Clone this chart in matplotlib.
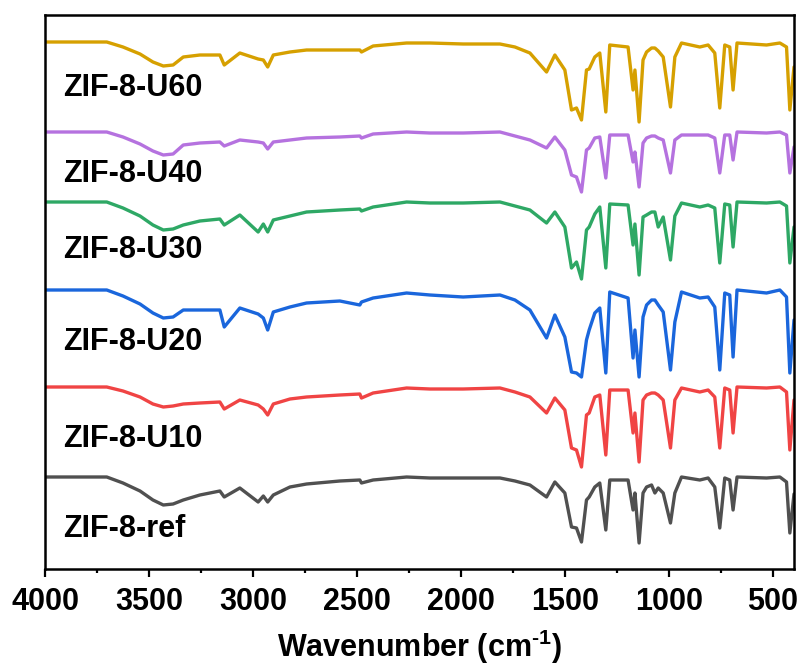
import matplotlib
matplotlib.use('Agg')
import matplotlib.pyplot as plt
from matplotlib.ticker import MultipleLocator

plt.rcParams['font.family'] = ['Liberation Sans', 'DejaVu Sans']
plt.rcParams['font.weight'] = 'bold'
plt.rcParams['mathtext.fontset'] = 'custom'
plt.rcParams['mathtext.rm'] = 'Liberation Sans:bold'
plt.rcParams['mathtext.default'] = 'rm'

# wavenumber grid (cm-1) at the visible features
wavenumber = [4000, 3703, 3625, 3543, 3481, 3431, 3384, 3335, 3255, 3159,
              3138, 3063, 2975, 2950, 2929, 2902, 2822, 2742, 2582, 2486,
              2478, 2422, 2261, 2149, 1989, 1812, 1740, 1668, 1588, 1548,
              1500, 1468, 1444, 1420, 1396, 1383, 1356, 1332, 1303, 1284,
              1196, 1172, 1163, 1143, 1124, 1107, 1083, 1067, 1051, 1027,
              992, 971, 939, 851, 811, 779, 755, 731, 707, 691,
              672, 530, 466, 434, 418, 398]

# absorption depth below each trace's own baseline (a.u.)
u60 = [0, 0, 5, 12, 20, 24, 23, 15, 13, 13,
       23, 11, 17, 18, 25, 13, 10, 8, 8, 8,
       10, 4, 1, 1, 2, 2, 5, 11, 30, 13,
       28, 68, 66, 78, 28, 27, 15, 11, 70, 3,
       5, 48, 28, 80, 18, 10, 6, 6, 9, 15,
       65, 15, 1, 5, 3, 11, 66, 3, 5, 48,
       1, 3, 1, 5, 68, 25]
u40 = [0, 0, 5, 12, 19, 23, 22, 13, 11, 10,
       14, 8, 10, 11, 17, 10, 8, 6, 5, 4,
       6, 2, 0, 1, 1, 0, 4, 8, 16, 5,
       18, 43, 45, 60, 18, 16, 6, 5, 46, 3,
       3, 30, 20, 55, 11, 6, 4, 4, 6, 8,
       41, 8, 3, 3, 3, 6, 41, 3, 3, 28,
       0, 1, 0, 3, 41, 15]
u30 = [0, 0, 6, 14, 23, 28, 27, 23, 19, 17,
       23, 13, 30, 22, 30, 18, 14, 10, 8, 7,
       9, 5, 0, 1, 1, 0, 4, 8, 21, 10,
       25, 66, 60, 77, 28, 25, 12, 5, 66, 2,
       3, 43, 22, 73, 15, 13, 10, 10, 25, 15,
       58, 14, 1, 5, 3, 6, 61, 2, 3, 45,
       0, 1, 0, 4, 61, 25]
u20 = [0, 0, 6, 14, 23, 28, 27, 20, 20, 20,
       37, 18, 24, 28, 40, 22, 17, 13, 11, 15,
       12, 8, 3, 5, 7, 5, 10, 20, 48, 25,
       47, 82, 83, 87, 50, 40, 23, 18, 83, 2,
       8, 68, 40, 87, 27, 15, 10, 10, 15, 22,
       80, 32, 2, 8, 7, 17, 80, 3, 5, 67,
       0, 3, 0, 7, 83, 30]
u10 = [0, 0, 4, 10, 17, 20, 19, 17, 16, 15,
       22, 13, 18, 22, 28, 17, 12, 10, 8, 7,
       11, 6, 1, 2, 2, 1, 5, 10, 26, 11,
       23, 61, 63, 80, 28, 26, 10, 8, 68, 3,
       3, 46, 26, 75, 13, 8, 6, 6, 8, 13,
       61, 13, 1, 5, 3, 10, 61, 1, 3, 46,
       0, 1, 0, 5, 63, 13]
ref = [0, 0, 6, 14, 23, 28, 27, 23, 18, 14,
       20, 11, 25, 19, 25, 18, 10, 7, 4, 3,
       6, 3, 0, 1, 1, 1, 4, 8, 20, 5,
       16, 50, 51, 65, 23, 20, 10, 6, 53, 3,
       3, 33, 16, 66, 16, 10, 8, 16, 11, 16,
       46, 16, 0, 3, 1, 10, 51, 1, 3, 33,
       0, 1, 0, 5, 56, 17]

labels = ['ZIF-8-U60', 'ZIF-8-U40', 'ZIF-8-U30', 'ZIF-8-U20', 'ZIF-8-U10', 'ZIF-8-ref']
series = [u60, u40, u30, u20, u10, ref]

# vertical stacking of the traces and their labels
offsets = [-42, -132, -202, -290, -387, -477]
label_y = [-88, -174, -250, -342, -439, -529]
colors = ['#D6A000', '#B572DF', '#2EA865', '#1A66DC', '#F04444', '#505050']

fig = plt.figure(figsize=(8.03, 6.66), dpi=100)
ax = fig.add_axes([45 / 803, 1 - 569 / 666, 749 / 803, 554 / 666])

for vals, off, c in zip(series, offsets, colors):
    ax.plot(wavenumber, [off - v for v in vals], color=c, lw=2.4,
            solid_joinstyle='round', solid_capstyle='round')

for lab, y in zip(labels, label_y):
    ax.text(3913, y, lab, fontsize=22, fontweight='bold', ha='left', va='center')

ax.set_xlim(4000, 398)
ax.set_ylim(-569, -15)
ax.xaxis.set_major_locator(MultipleLocator(500))
ax.xaxis.set_minor_locator(MultipleLocator(250))
ax.set_yticks([])
ax.tick_params(axis='x', which='major', direction='out', length=6, width=1.6,
               labelsize=22, pad=7)
ax.tick_params(axis='x', which='minor', direction='out', length=3, width=1.6)
for s in ax.spines.values():
    s.set_linewidth(1.8)

ax.set_xlabel(r'Wavenumber (cm$^{\text{-1}}$)', fontsize=22, fontweight='bold', labelpad=8)

fig.savefig('out.png', dpi=100)
